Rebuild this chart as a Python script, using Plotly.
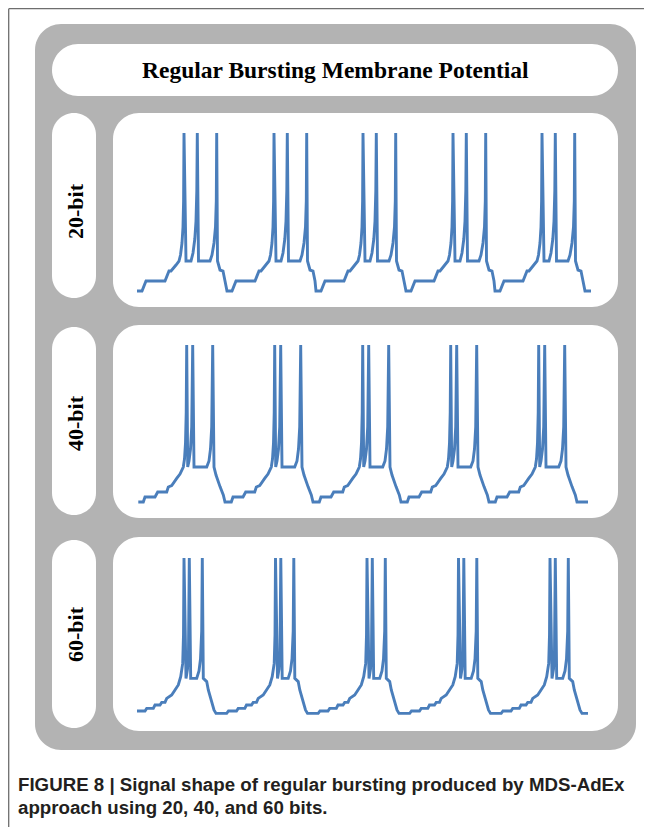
import plotly.graph_objects as go

# ---------------- data ----------------
# time in ms, membrane potential in mV, one list per resolution
t_20bit = [
    0, 5, 9, 28, 32, 34, 39, 42, 43.5, 45, 46, 46.6, 47, 49, 54, 56, 57.8, 59, 59.8, 60.3, 61.5, 73, 75, 77, 78.5, 79.3, 79.7, 80.5, 83, 86, 88,
    90, 95, 99, 118, 122, 124, 129, 132, 133.5, 135, 136, 136.6, 137, 139, 144, 146, 147.8, 149, 149.8, 150.3, 151.5, 163, 165, 167, 168.5, 169.3, 169.7, 170.5, 173, 176, 178,
    179, 184, 188, 207, 211, 213, 218, 221, 222.5, 224, 225, 225.6, 226, 228, 233, 235, 236.8, 238, 238.8, 239.3, 240.5, 252, 254, 256, 257.5, 258.3, 258.7, 259.5, 262, 265, 267,
    269, 274, 278, 297, 301, 303, 308, 311, 312.5, 314, 315, 315.6, 316, 318, 323, 325, 326.8, 328, 328.8, 329.3, 330.5, 342, 344, 346, 347.5, 348.3, 348.7, 349.5, 352, 355, 357,
    358, 363, 367, 386, 390, 392, 397, 400, 401.5, 403, 404, 404.6, 405, 407, 412, 414, 415.8, 417, 417.8, 418.3, 419.5, 431, 433, 435, 436.5, 437.3, 437.7, 438.5, 441, 444, 446,
    448, 454,
]
v_20bit = [
    -60, -60, -55, -55, -50, -50, -47, -45, -42, -36, -28, -15, 19, -45, -45, -41, -34, -25, -10, 19, -45, -45, -42, -36, -28, -15, 19, -45, -49.5, -50, -55,
    -60, -60, -55, -55, -50, -50, -47, -45, -42, -36, -28, -15, 19, -45, -45, -41, -34, -25, -10, 19, -45, -45, -42, -36, -28, -15, 19, -45, -49.5, -50, -55,
    -60, -60, -55, -55, -50, -50, -47, -45, -42, -36, -28, -15, 19, -45, -45, -41, -34, -25, -10, 19, -45, -45, -42, -36, -28, -15, 19, -45, -49.5, -50, -55,
    -60, -60, -55, -55, -50, -50, -47, -45, -42, -36, -28, -15, 19, -45, -45, -41, -34, -25, -10, 19, -45, -45, -42, -36, -28, -15, 19, -45, -49.5, -50, -55,
    -60, -60, -55, -55, -50, -50, -47, -45, -42, -36, -28, -15, 19, -45, -45, -41, -34, -25, -10, 19, -45, -45, -42, -36, -28, -15, 19, -45, -49.5, -50, -55,
    -60, -60,
]

t_40bit = [
    1.3, 6.3, 8, 18, 20.7, 29.7, 31.3, 34.7, 39.7, 43, 46.3, 47.5, 48.5, 49.2, 49.7, 50.7, 52, 53.5, 54.7, 55.3, 55.7, 57, 69.7, 72, 73.5, 74.7, 75.3, 75.7, 77, 79, 83, 86.3,
    88, 94.3, 96, 106, 108.7, 117.7, 119.3, 122.7, 127.7, 131, 134.3, 135.5, 136.5, 137.2, 137.7, 138.7, 140, 141.5, 142.7, 143.3, 143.7, 145, 157.7, 160, 161.5, 162.7, 163.3, 163.7, 165, 167, 171, 174.3,
    176, 182.3, 184, 194, 196.7, 205.7, 207.3, 210.7, 215.7, 219, 222.3, 223.5, 224.5, 225.2, 225.7, 226.7, 228, 229.5, 230.7, 231.3, 231.7, 233, 245.7, 248, 249.5, 250.7, 251.3, 251.7, 253, 255, 259, 262.3,
    264, 270.3, 272, 282, 284.7, 293.7, 295.3, 298.7, 303.7, 307, 310.3, 311.5, 312.5, 313.2, 313.7, 314.7, 316, 317.5, 318.7, 319.3, 319.7, 321, 333.7, 336, 337.5, 338.7, 339.3, 339.7, 341, 343, 347, 350.3,
    352, 358.3, 360, 370, 372.7, 381.7, 383.3, 386.7, 391.7, 395, 398.3, 399.5, 400.5, 401.2, 401.7, 402.7, 404, 405.5, 406.7, 407.3, 407.7, 409, 421.7, 424, 425.5, 426.7, 427.3, 427.7, 429, 431, 435, 438.3,
    440, 451,
]
v_40bit = [
    -59.5, -59.5, -57, -57, -54.5, -54.5, -52, -51.3, -47.7, -45.5, -42, -38, -30, -15, 19, -42, -39, -33, -22, -5, 19, -42, -42, -39, -33, -22, -5, 19, -42, -46, -51.8, -56,
    -59.5, -59.5, -57, -57, -54.5, -54.5, -52, -51.3, -47.7, -45.5, -42, -38, -30, -15, 19, -42, -39, -33, -22, -5, 19, -42, -42, -39, -33, -22, -5, 19, -42, -46, -51.8, -56,
    -59.5, -59.5, -57, -57, -54.5, -54.5, -52, -51.3, -47.7, -45.5, -42, -38, -30, -15, 19, -42, -39, -33, -22, -5, 19, -42, -42, -39, -33, -22, -5, 19, -42, -46, -51.8, -56,
    -59.5, -59.5, -57, -57, -54.5, -54.5, -52, -51.3, -47.7, -45.5, -42, -38, -30, -15, 19, -42, -39, -33, -22, -5, 19, -42, -42, -39, -33, -22, -5, 19, -42, -46, -51.8, -56,
    -59.5, -59.5, -57, -57, -54.5, -54.5, -52, -51.3, -47.7, -45.5, -42, -38, -30, -15, 19, -42, -39, -33, -22, -5, 19, -42, -42, -39, -33, -22, -5, 19, -42, -46, -51.8, -56,
    -59.5, -59.5,
]

t_60bit = [
    0, 8, 9.7, 16.3, 18, 23, 24.7, 28, 29.7, 34.7, 38, 41.3, 43.7, 45.7, 46.5, 47, 49, 50.5, 51.5, 52, 52.3, 53.7, 59.7, 62, 63.5, 64.7, 65.3, 66.3, 69.7, 71.3, 74.7, 77, 79, 89.7,
    91.5, 99.5, 101.2, 107.8, 109.5, 114.5, 116.2, 119.5, 121.2, 126.2, 129.5, 132.8, 135.2, 137.2, 138, 138.5, 140.5, 142, 143, 143.5, 143.8, 145.2, 151.2, 153.5, 155, 156.2, 156.8, 157.8, 161.2, 162.8, 166.2, 168.5, 170.5, 181.2,
    183, 191, 192.7, 199.3, 201, 206, 207.7, 211, 212.7, 217.7, 221, 224.3, 226.7, 228.7, 229.5, 230, 232, 233.5, 234.5, 235, 235.3, 236.7, 242.7, 245, 246.5, 247.7, 248.3, 249.3, 252.7, 254.3, 257.7, 260, 262, 272.7,
    274.5, 282.5, 284.2, 290.8, 292.5, 297.5, 299.2, 302.5, 304.2, 309.2, 312.5, 315.8, 318.2, 320.2, 321, 321.5, 323.5, 325, 326, 326.5, 326.8, 328.2, 334.2, 336.5, 338, 339.2, 339.8, 340.8, 344.2, 345.8, 349.2, 351.5, 353.5, 364.2,
    366, 374, 375.7, 382.3, 384, 389, 390.7, 394, 395.7, 400.7, 404, 407.3, 409.7, 411.7, 412.5, 413, 415, 416.5, 417.5, 418, 418.3, 419.7, 425.7, 428, 429.5, 430.7, 431.3, 432.3, 435.7, 437.3, 440.7, 443, 445, 451,
]
v_60bit = [
    -58, -58, -56.7, -56.7, -55, -55, -53.7, -53.7, -51.7, -50, -47.5, -45, -40.8, -34.2, -20, 18.5, -41.7, -37, -28, -12, 18.5, -41.7, -41.7, -38, -32, -18, 18.5, -41.7, -43.3, -47.5, -53.3, -57.5, -59.2, -59.2,
    -58, -58, -56.7, -56.7, -55, -55, -53.7, -53.7, -51.7, -50, -47.5, -45, -40.8, -34.2, -20, 18.5, -41.7, -37, -28, -12, 18.5, -41.7, -41.7, -38, -32, -18, 18.5, -41.7, -43.3, -47.5, -53.3, -57.5, -59.2, -59.2,
    -58, -58, -56.7, -56.7, -55, -55, -53.7, -53.7, -51.7, -50, -47.5, -45, -40.8, -34.2, -20, 18.5, -41.7, -37, -28, -12, 18.5, -41.7, -41.7, -38, -32, -18, 18.5, -41.7, -43.3, -47.5, -53.3, -57.5, -59.2, -59.2,
    -58, -58, -56.7, -56.7, -55, -55, -53.7, -53.7, -51.7, -50, -47.5, -45, -40.8, -34.2, -20, 18.5, -41.7, -37, -28, -12, 18.5, -41.7, -41.7, -38, -32, -18, 18.5, -41.7, -43.3, -47.5, -53.3, -57.5, -59.2, -59.2,
    -58, -58, -56.7, -56.7, -55, -55, -53.7, -53.7, -51.7, -50, -47.5, -45, -40.8, -34.2, -20, 18.5, -41.7, -37, -28, -12, 18.5, -41.7, -41.7, -38, -32, -18, 18.5, -41.7, -43.3, -47.5, -53.3, -57.5, -59.2, -59.2,
]

resolution_labels = ["20-bit", "40-bit", "60-bit"]
chart_title = "Regular Bursting Membrane Potential"
caption_lines = [
    "FIGURE 8 | Signal shape of regular bursting produced by MDS-AdEx",
    "approach using 20, 40, and 60 bits.",
]

series = [(t_20bit, v_20bit), (t_40bit, v_40bit), (t_60bit, v_60bit)]
for t, v in series:
    assert len(t) == len(v)

# ---------------- layout geometry (reference page pixels) ----------------
PAGE_OFF = 8                    # the browser page adds an 8 px body margin
WF, HF = 652 - 2 * PAGE_OFF, 835 - 2 * PAGE_OFF
panel_boxes = [(113, 113, 618, 307), (113, 325, 618, 518), (113, 537, 618, 731)]
label_boxes = [(52, 113, 96, 298), (52, 327, 96, 515), (52, 540, 96, 728)]
label_centers_y = [211, 423, 634]
T0_PX = 137          # page pixel x of t = 0
PX_PER_MS = 1.0
PX_PER_MV = 2.0
V_TOP = 29           # mV at the top edge of each panel


def fx(px):
    return (px - PAGE_OFF) / WF


def fy(py):
    return 1 - (py - PAGE_OFF) / HF


def rrect(x0, y0, x1, y1, r):
    k = 0.45
    pts = [
        f"M{fx(x0 + r)},{fy(y0)}",
        f"L{fx(x1 - r)},{fy(y0)}",
        f"C{fx(x1 - r * k)},{fy(y0)} {fx(x1)},{fy(y0 + r * k)} {fx(x1)},{fy(y0 + r)}",
        f"L{fx(x1)},{fy(y1 - r)}",
        f"C{fx(x1)},{fy(y1 - r * k)} {fx(x1 - r * k)},{fy(y1)} {fx(x1 - r)},{fy(y1)}",
        f"L{fx(x0 + r)},{fy(y1)}",
        f"C{fx(x0 + r * k)},{fy(y1)} {fx(x0)},{fy(y1 - r * k)} {fx(x0)},{fy(y1 - r)}",
        f"L{fx(x0)},{fy(y0 + r)}",
        f"C{fx(x0)},{fy(y0 + r * k)} {fx(x0 + r * k)},{fy(y0)} {fx(x0 + r)},{fy(y0)}",
        "Z",
    ]
    return " ".join(pts)


GREY = "#b3b3b3"
BLUE = "#4a7ebb"

shapes = []
# outer page frame lines
shapes.append(dict(type="line", xref="paper", yref="paper", x0=fx(8.7), x1=fx(652), y0=fy(8.7), y1=fy(8.7),
                   line=dict(color="#6e6e6e", width=1.3), layer="below"))
shapes.append(dict(type="line", xref="paper", yref="paper", x0=fx(8.7), x1=fx(8.7), y0=fy(8.7), y1=fy(835),
                   line=dict(color="#6e6e6e", width=1.3), layer="below"))
# grey container
shapes.append(dict(type="path", xref="paper", yref="paper", path=rrect(35, 24, 636, 750, 26),
                   fillcolor=GREY, line=dict(width=0), layer="below"))
# title pill
shapes.append(dict(type="path", xref="paper", yref="paper", path=rrect(52, 44, 618, 96, 26),
                   fillcolor="white", line=dict(width=0), layer="below"))
for (x0, y0, x1, y1) in label_boxes:
    shapes.append(dict(type="path", xref="paper", yref="paper", path=rrect(x0, y0, x1, y1, 22),
                       fillcolor="white", line=dict(width=0), layer="below"))
for (x0, y0, x1, y1) in panel_boxes:
    shapes.append(dict(type="path", xref="paper", yref="paper", path=rrect(x0, y0, x1, y1, 26),
                       fillcolor="white", line=dict(width=0), layer="below"))

fig = go.Figure()
layout_axes = {}
for i, ((t, v), (x0, y0, x1, y1)) in enumerate(zip(series, panel_boxes)):
    n = "" if i == 0 else str(i + 1)
    fig.add_trace(go.Scatter(x=t, y=v, mode="lines", line=dict(color=BLUE, width=2.9),
                             xaxis="x" + n, yaxis="y" + n, hoverinfo="skip", showlegend=False))
    xr = [(x0 - T0_PX) / PX_PER_MS, (x1 - T0_PX) / PX_PER_MS]
    yr = [V_TOP - (y1 - y0) / PX_PER_MV, V_TOP]
    layout_axes["xaxis" + n] = dict(domain=[fx(x0), fx(x1)], range=xr, visible=False,
                                    anchor="y" + n, fixedrange=True)
    layout_axes["yaxis" + n] = dict(domain=[fy(y1), fy(y0)], range=yr, visible=False,
                                    anchor="x" + n, fixedrange=True)

annotations = []
annotations.append(dict(text="<b>" + chart_title + "</b>", xref="paper", yref="paper",
                        x=fx(335), y=fy(70), xanchor="center", yanchor="middle", showarrow=False,
                        font=dict(family="Liberation Serif, Times New Roman, serif", size=23.5, color="black")))
for lab, cy in zip(resolution_labels, label_centers_y):
    annotations.append(dict(text="<b>" + lab + "</b>", xref="paper", yref="paper",
                            x=fx(75), y=fy(cy), xanchor="center", yanchor="middle", showarrow=False,
                            textangle=-90,
                            font=dict(family="Liberation Serif, Times New Roman, serif", size=22, color="black")))
for line, cy in zip(caption_lines, [784, 807]):
    annotations.append(dict(text="<b>" + line + "</b>", xref="paper", yref="paper",
                            x=fx(16), y=fy(cy), xanchor="left", yanchor="middle", showarrow=False,
                            font=dict(family="Liberation Sans, Arial, sans-serif", size=18.7, color="#231f20")))

fig.update_layout(
    width=WF, height=HF,
    margin=dict(l=0, r=0, t=0, b=0),
    paper_bgcolor="white", plot_bgcolor="rgba(0,0,0,0)",
    shapes=shapes, annotations=annotations,
    showlegend=False,
    **layout_axes,
)

fig.write_html("out.html", config={"displayModeBar": False})
